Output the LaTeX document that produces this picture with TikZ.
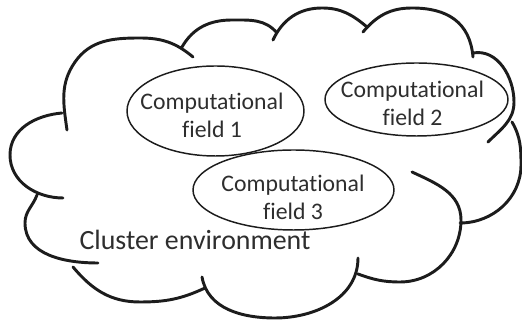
\documentclass[tikz,border=0pt]{standalone}
\usepackage{fontspec}
\setmainfont{Carlito}[Ligatures=NoCommon]
\usepackage{tikz}
\usetikzlibrary{shapes.geometric}
\definecolor{inkline}{HTML}{1C1C1C}
\definecolor{inktext}{HTML}{2E2E2E}

\begin{document}
\begin{tikzpicture}[
  x=0.75pt, y=0.75pt,
  puff/.style={draw=inkline, line width=2.2pt, line cap=round},
  field/.style={ellipse, draw=inkline, line width=1.1pt, inner sep=0pt},
  fieldtext/.style={align=center, text=inktext, font=\fontsize{17.8}{21}\selectfont},
  envtext/.style={text=inktext, font=\fontsize{20.9}{24}\selectfont}
]
\useasboundingbox (0,0) rectangle (522,320);
\draw[puff]
  (67,190) to[out=98,in=-125] (75,258) to[out=55,in=180] (140,282) to[out=0,in=140] (193,263)
  (182,273) to[out=60,in=180] (232,300) to[out=0,in=130] (277,287)
  (273,280) to[out=65,in=180] (322,312) to[out=0,in=140] (367,293)
  (363,288) to[out=50,in=180] (412,312) to[out=0,in=95,looseness=1.15] (473,263)
  (473,267) to[out=10,in=90] (514,218) to[out=-90,in=45] (488,178)
  (512,198) to[out=-60,in=90] (521,155) to[out=-90,in=0] (460,97)
  (412,148) to[out=-25,in=90] (461,100) to[out=-90,in=0] (400,38) to[out=180,in=-20] (358,46)
  (358,62) to[out=-90,in=0] (275,2) to[out=180,in=-80] (202,43)
  (205,32) to[out=-155,in=0] (140,18) to[out=180,in=-50] (73,53)
  (98,57) to[out=180,in=-90] (25,97) to[out=90,in=-110] (37,125)
  (62,207) to[out=185,in=90] (10,165) to[out=-90,in=180] (63,122);
\node[field, minimum width=132.75pt, minimum height=67.5pt] (field1) at (215.5,209) {};
\node[field, minimum width=137.25pt, minimum height=54.75pt] (field2) at (416.5,220.5) {};
\node[field, minimum width=150.75pt, minimum height=60pt] (field3) at (293.5,130) {};
\node[fieldtext] (field1txt) at (212,205) {Computational\\field 1};
\node[fieldtext] (field2txt) at (412.5,216.5) {Computational\\field 2};
\node[fieldtext] (field3txt) at (293,123) {Computational\\field 3};
\node[envtext] (cluster) at (195,80) {Cluster environment};
\end{tikzpicture}
\end{document}
